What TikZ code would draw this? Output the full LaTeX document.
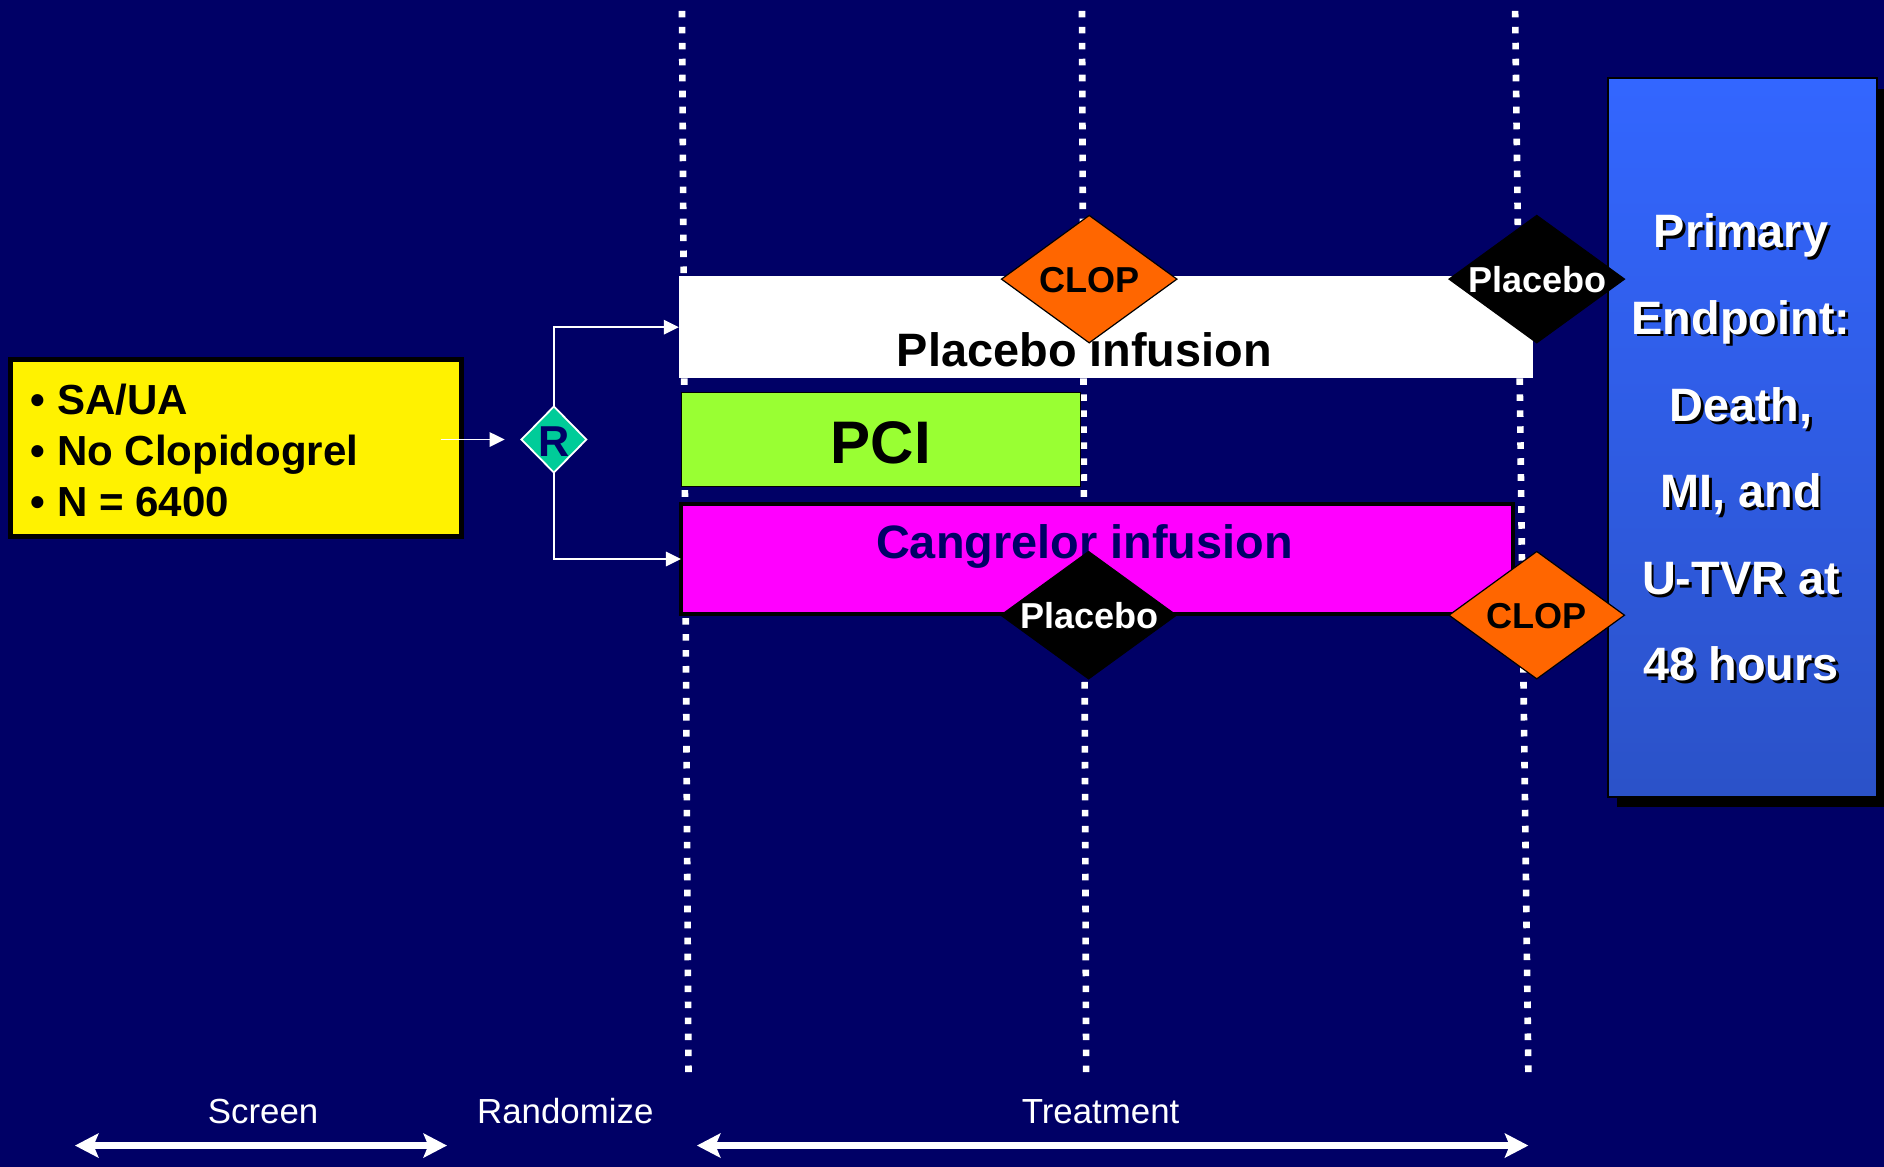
\documentclass[tikz,border=0pt]{standalone}
\usepackage{fontspec}
\setmainfont{Liberation Sans}
\usetikzlibrary{shapes.geometric,arrows.meta}

\definecolor{navy}{RGB}{0,0,102}
\definecolor{pcigreen}{RGB}{153,255,51}
\definecolor{clop}{RGB}{255,102,0}
\definecolor{teal}{RGB}{0,204,153}
\definecolor{cangrelor}{RGB}{255,0,255}
\definecolor{bluetop}{RGB}{51,102,255}
\definecolor{bluebot}{RGB}{43,82,200}

\begin{document}
\begin{tikzpicture}[x=1pt,y=-1pt,
  every node/.style={inner sep=0pt, outer sep=0pt},
  timeline/.style={white, line width=5.5pt, dash pattern=on 5.5pt off 7.8pt},
  branch/.style={white, line width=1.5pt, -{Triangle[length=12.5pt,width=12pt]}},
  span/.style={white, line width=6.4pt,
    {Stealth[length=19.5pt,width=20pt,inset=4pt]}-{Stealth[length=19.5pt,width=20pt,inset=4pt]}},
  mark diamond/.style={diamond, draw=black, line width=1pt, minimum width=146pt, minimum height=106pt},
  dmdtext/.style={font=\fontsize{30}{36}\selectfont\bfseries},
  bartext/.style={font=\fontsize{39}{46}\selectfont\bfseries},
  listtext/.style={font=\fontsize{35}{42}\selectfont\bfseries, anchor=base west},
  eptext/.style={font=\fontsize{39}{47}\selectfont\bfseries, anchor=base},
  phase/.style={font=\fontsize{29}{34}\selectfont, text=white, anchor=base}
]
% page and background
\fill[navy] (0,0) rectangle (1568,971);
\useasboundingbox (0,0) rectangle (1568,971);

% dashed time markers
\coordinate (t1) at (567.6,9);  \coordinate (b1) at (573,893);
\coordinate (t2) at (900.5,9);  \coordinate (b2) at (904,893);
\coordinate (t3) at (1261,9);   \coordinate (b3) at (1272,893);
\draw[timeline] (t1) -- (b1);
\draw[timeline] (t2) -- (b2);
\draw[timeline] (t3) -- (b3);

% inclusion box
\node[draw=black, line width=4.2pt, fill=yellow, minimum width=375.1pt, minimum height=147.4pt]
  (ybox) at (196.35,373.2) {};
\node[listtext] (y1) at (25.5,344.6) {• SA/UA};
\node[listtext] (y2) at (25.5,387.3) {• No Clopidogrel};
\node[listtext] (y3) at (25.5,429.5) {• N = 6400};

% randomisation
\node[diamond, draw=white, line width=1.5pt, fill=teal, minimum width=54pt, minimum height=55pt]
  (R) at (461,365.8) {};
\node[font=\fontsize{36}{40}\selectfont\bfseries, text=navy, anchor=base] (Rl) at (461,380) {R};

% treatment bars
\node[fill=white, minimum width=711pt, minimum height=84.6pt] (wbox) at (920.5,272.3) {};
\node[bartext, anchor=base] (wtext) at (902.5,305) {Placebo infusion};

\node[draw=black, line width=1.2pt, fill=pcigreen, minimum width=332.3pt, minimum height=78.3pt]
  (pci) at (733.25,365.75) {};
\node[font=\fontsize{50}{56}\selectfont\bfseries, anchor=base] (pcitext) at (733,385.6) {PCI};

\node[draw=black, line width=3.5pt, fill=cangrelor, minimum width=692.5pt, minimum height=92pt]
  (mbox) at (913,465.25) {};
\node[bartext, text=navy, anchor=base] (mtext) at (902.5,465) {Cangrelor infusion};

% arrows into the arms
\coordinate (yout) at (ybox.east |- R.west);
\draw[branch] ([xshift=-17pt]yout) -- ([xshift=-14pt]R.west);
\draw[branch] (R.north) |- (wbox.west);
\draw[branch] (R.south) |- (mbox.west);

% endpoint panel
\fill[black] (1346,74) rectangle (1570,672);
\node[draw=black, line width=1.5pt, top color=bluetop, bottom color=bluebot,
  minimum width=224pt, minimum height=598pt] (ep) at (1450,364) {};
\foreach \txt/\yb [count=\i] in {Primary/206, Endpoint:/278, {Death,}/350.5,
    {MI, and}/422.5, U-TVR at/494.5, 48 hours/566.5} {
  \node[eptext, text=black] (eps\i) at (1451.4,\yb+2.4) {\txt};
  \node[eptext, text=white] (ept\i) at (1449,\yb) {\txt};
}

% study drug markers
\node[mark diamond, fill=clop] (d1) at (906.5,232.3) {};
\node[dmdtext] (d1t) at (906.5,233) {CLOP};
\node[mark diamond, fill=black] (d2) at (1279,232.3) {};
\node[dmdtext, text=white] (d2t) at (1279.5,233) {Placebo};
\node[mark diamond, fill=black] (d3) at (906,512) {};
\node[dmdtext, text=white] (d3t) at (906.5,512) {Placebo};
\node[mark diamond, fill=clop] (d4) at (1279,512) {};
\node[dmdtext] (d4t) at (1279,512.5) {CLOP};

% phases
\node[phase] (screen) at (219,935) {Screen};
\node[phase] (rand) at (470.5,935) {Randomize};
\node[phase] (treat) at (916,935) {Treatment};
\coordinate (sL) at (62.4,953.4);  \coordinate (sR) at (372,953.4);
\coordinate (tL) at (580,953.4);   \coordinate (tR) at (1272,953.4);
\draw[span] (sL) -- (sR);
\draw[span] (tL) -- (tR);
\end{tikzpicture}
\end{document}
